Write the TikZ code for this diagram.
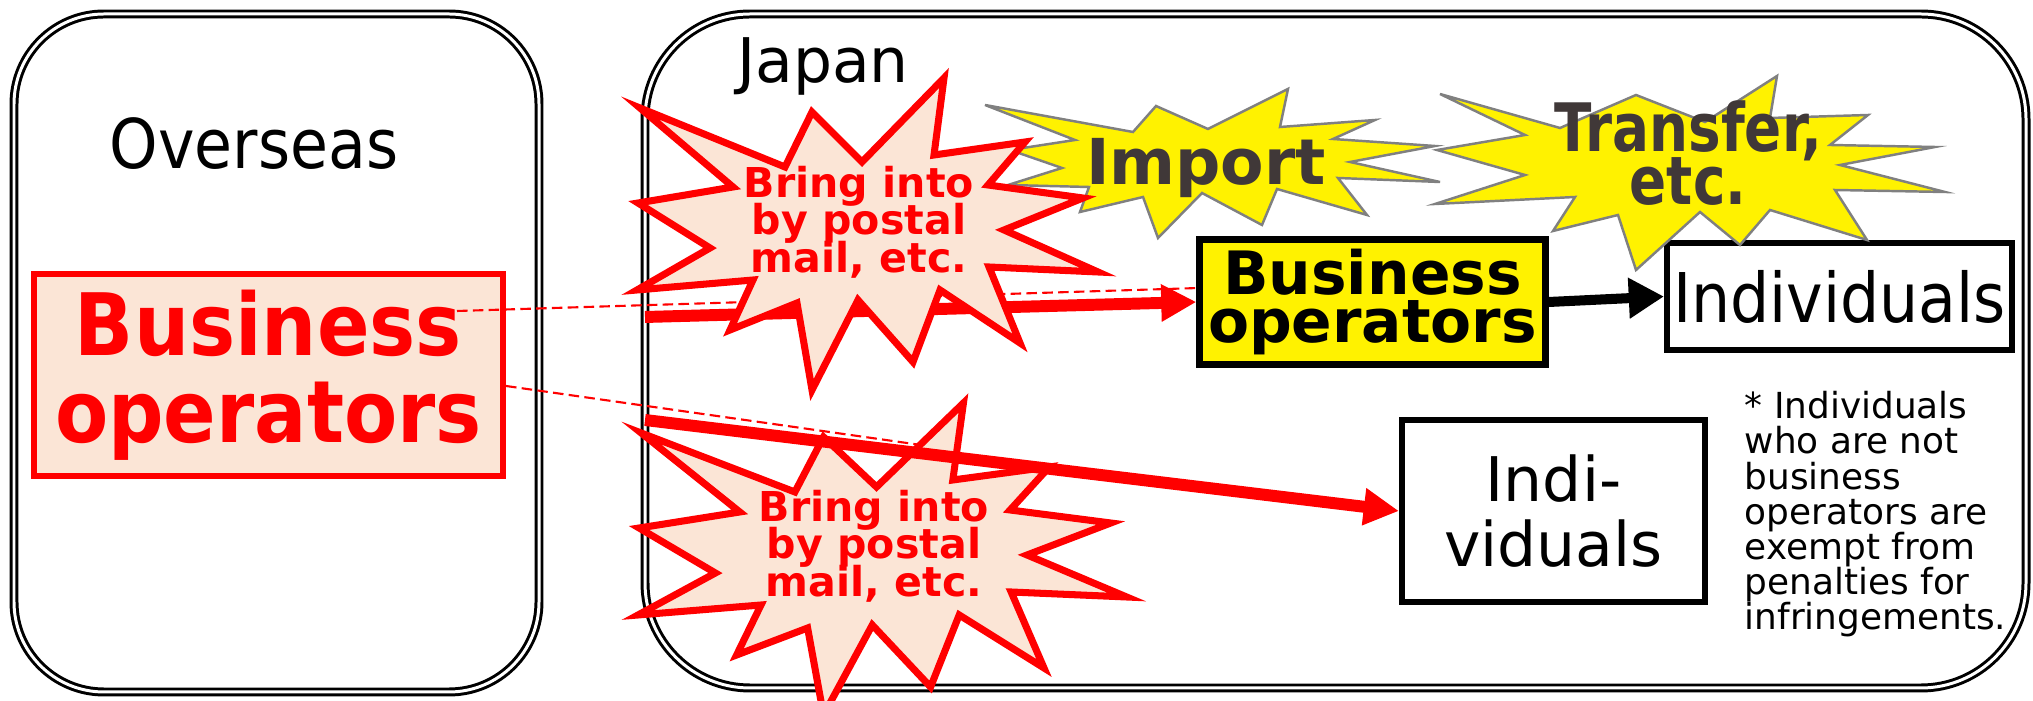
\documentclass[tikz,border=0pt]{standalone}
\usepackage{fontspec}
\setmainfont{DejaVu Sans}
\newfontfamily\wideface[FakeStretch=0.9]{DejaVu Sans}
\newfontfamily\narrowface[FakeStretch=0.82]{DejaVu Sans}
\usepackage{tikz}
\usepackage{tkz-euclide}
\usetikzlibrary{calc,arrows.meta}
\definecolor{peach}{RGB}{251,229,214}
\definecolor{inkgray}{RGB}{64,56,56}
\definecolor{rimgray}{RGB}{128,128,128}
\lineskiplimit=-20pt
\newcommand{\drawmailstar}{\draw[mailstar] (640,108) -- (785,167) -- (812,112) -- (862,162) -- (944,78) -- (934,155) -- (1025,142) -- (988,185) -- (1083,198) -- (1004,230) -- (1098,272) -- (989,267) -- (1020,343) -- (940,290) -- (913,362) -- (858,300) -- (812,390) -- (797,303) -- (730,330) -- (753,280) -- (637,290) -- (710,248) -- (638,203) -- (733,187) -- cycle;}

\begin{document}
\begin{tikzpicture}[x=0.01cm,y=-0.01cm,
                panel/.style={draw=black,double=white,double distance=0.85pt,line width=0.85pt},
                redbox/.style={draw=red,fill=peach,line width=1.7pt,inner sep=0pt},
                blackbox/.style={draw=black,line width=1.7pt,inner sep=0pt},
                mailstar/.style={draw=red,fill=peach,line width=2pt},
                boomstar/.style={draw=rimgray,fill=yellow,line width=0.7pt},
                dashline/.style={red,line width=0.6pt,dash pattern=on 3pt off 1.5pt},
                redarrow/.style={red,line width=3.4pt,-{Triangle[length=10pt,width=10pt]}},
                blackarrow/.style={black,line width=2.85pt,-{Triangle[length=10pt,width=11pt]}}]
                \useasboundingbox (0,0) rectangle (2033,701);
                \draw[panel,rounded corners=0.9cm] (14,14) rectangle (539,692);
                \draw[panel,rounded corners=1.05cm] (645,14) rectangle (2026,688);
                \node[font=\wideface\fontsize{19.5}{20}\selectfont,anchor=base] (overseas) at (254,169) {Overseas};
                \node[font=\fontsize{17.5}{18}\selectfont,anchor=base] (japan) at (823,83) {Japan};
                \node[redbox,minimum width=4.69cm,minimum height=2.02cm,align=center,text=red,
                      font=\wideface\bfseries\fontsize{24.5}{24.7}\selectfont] (bizos) at (268.5,375) {Business\\operators};
                \node[blackbox,line width=2pt,fill=yellow,minimum width=3.45cm,minimum height=1.24cm,align=center,
                      font=\bfseries\fontsize{17}{13.7}\selectfont] (bizjp) at (1372.5,302) {Business\\operators};
                \node[blackbox,minimum width=3.45cm,minimum height=1.07cm,
                      font=\wideface\fontsize{19.5}{20}\selectfont] (indiv) at (1839.5,296.5) {Individuals};
                \node[blackbox,minimum width=3.03cm,minimum height=1.82cm,align=center,
                      font=\fontsize{17.5}{18.5}\selectfont] (indiv2) at (1553.5,511) {Indi-\\viduals};
                \node[anchor=north west,inner sep=0pt,align=left,font=\fontsize{10.2}{9.96}\selectfont] (note) at (1744,391)
                      {* Individuals\\who are not\\business\\operators are\\exempt from\\penalties for\\infringements.};
                \tkzDefPoint(457,311){d1}
                \tkzDefPoint(1199,288){e1}
                \tkzDefPoint(506,386){d2}
                \tkzDefPoint(928,446){e2}
                \tkzDefPoint(645,317){a1}
                \tkzDefPoint(645,420){a2}
                \draw[dashline] (d1) -- (e1);
                \draw[dashline] (d2) -- (e2);
                \draw[boomstar] (985,105) -- (1133,132) -- (1156,106) -- (1208,129) -- (1288,89) -- (1280,127) -- (1375,120) -- (1333,139) -- (1435,146) -- (1350,162) -- (1440,182) -- (1338,178) -- (1367,215) -- (1277,189) -- (1262,225) -- (1202,193) -- (1158,238) -- (1143,197) -- (1080,212) -- (1089,187) -- (1008,185) -- (1062,168) -- (1010,150) -- (1075,140) -- cycle;
                \node[text=inkgray,anchor=base,font=\bfseries\fontsize{18}{18}\selectfont] (import) at (1206,185) {Import};
                \draw[boomstar] (1440,94) -- (1560,128) -- (1636,95) -- (1705,122) -- (1777,76) -- (1770,118) -- (1868,115) -- (1830,145) -- (1935,147) -- (1840,165) -- (1945,192) -- (1835,190) -- (1867,240) -- (1770,210) -- (1740,245) -- (1700,212) -- (1636,270) -- (1618,215) -- (1553,231) -- (1575,197) -- (1435,204) -- (1525,175) -- (1437,150) -- (1525,135) -- cycle;
                \node[text=inkgray,align=center,font=\narrowface\bfseries\fontsize{19}{15}\selectfont] (transfer) at (1688,153) {Transfer,\\etc.};
                \draw[redarrow] (a1) -- (bizjp.west);
                \drawmailstar
                \node[text=red,align=center,font=\bfseries\fontsize{11.7}{10.7}\selectfont] (mail1) at (859,222) {Bring into\\by postal\\mail, etc.};
                \begin{scope}[shift={(-37.2,325)},xscale=1.06]
                \drawmailstar
                \end{scope}
                \node[text=red,align=center,font=\bfseries\fontsize{11.7}{10.7}\selectfont] (mail2) at (874,546) {Bring into\\by postal\\mail, etc.};
                \draw[redarrow] (a2) -- (indiv2.west);
                \draw[blackarrow] (bizjp.east) -- (indiv.west);
                %\tkzDrawPoints(d1,d2,a1,a2)
\end{tikzpicture}
\end{document}
